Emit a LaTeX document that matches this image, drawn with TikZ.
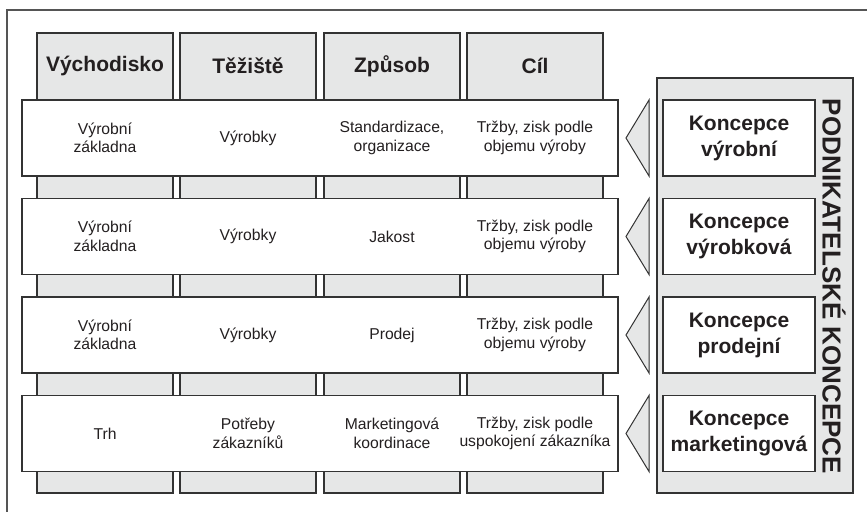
\documentclass[tikz,border=0pt]{standalone}
\usepackage{fontspec}
\setmainfont{Liberation Sans}
\definecolor{boxgray}{HTML}{E6E7E7}
\definecolor{linec}{HTML}{333333}
\definecolor{framec}{HTML}{555555}
\definecolor{txt}{HTML}{231F20}
\begin{document}
\begin{tikzpicture}[x=1pt,y=-1pt,
  colbox/.style={draw=linec,fill=boxgray,line width=1.1pt,minimum width=136pt,minimum height=460pt,inner sep=0pt},
  rowbox/.style={draw=linec,fill=white,line width=1.1pt,minimum width=596pt,minimum height=76pt,inner sep=0pt},
  kbox/.style={draw=linec,fill=white,line width=1.1pt,minimum width=152pt,minimum height=76pt,inner sep=0pt,
    text=txt,align=center,font=\fontsize{21}{26}\selectfont\bfseries},
  panel/.style={draw=linec,fill=boxgray,line width=1.1pt,minimum width=196pt,minimum height=415pt,inner sep=0pt},
  hdr/.style={text=txt,font=\fontsize{21}{24}\selectfont\bfseries},
  cell/.style={text=txt,align=center,font=\fontsize{15.7}{18.5}\selectfont},
  tri/.style={draw=linec,fill=boxgray,line width=1pt,line join=miter},
  vtext/.style={text=txt,rotate=-90,font=\fontsize{26}{30}\selectfont\bfseries}
]
\useasboundingbox (0,0) rectangle (867,512);
\fill[white] (0,0) rectangle (867,512);
% outer frame (cropped)
\draw[framec,line width=1.2pt] (867,10) -- (7,10) -- (7,512);

% columns
\node[colbox] (c1) at (105,263) {};
\node[colbox] (c2) at (248,263) {};
\node[colbox] (c3) at (392,263) {};
\node[colbox] (c4) at (535,263) {};
\node[hdr] (h1) at (105,66) {Východisko};
\node[hdr] (h2) at (248,66) {Těžiště};
\node[hdr] (h3) at (392,66) {Způsob};
\node[hdr] (h4) at (535,66) {Cíl};

% rows
\node[rowbox] (r1) at (320,138) {};
\node[rowbox] (r2) at (320,236.5) {};
\node[rowbox] (r3) at (320,335) {};
\node[rowbox] (r4) at (320,433.5) {};

\node[cell] (a11) at (105,138) {Výrobní\\základna};
\node[cell] (a12) at (248,138) {Výrobky};
\node[cell] (a13) at (392,138) {Standardizace,\\organizace};
\node[cell] (a14) at (535,138) {Tržby, zisk podle\\objemu výroby};

\node[cell] (a21) at (105,236.5) {Výrobní\\základna};
\node[cell] (a22) at (248,236.5) {Výrobky};
\node[cell] (a23) at (392,236.5) {Jakost};
\node[cell] (a24) at (535,236.5) {Tržby, zisk podle\\objemu výroby};

\node[cell] (a31) at (105,335) {Výrobní\\základna};
\node[cell] (a32) at (248,335) {Výrobky};
\node[cell] (a33) at (392,335) {Prodej};
\node[cell] (a34) at (535,335) {Tržby, zisk podle\\objemu výroby};

\node[cell] (a41) at (105,433.5) {Trh};
\node[cell] (a42) at (248,433.5) {Potřeby\\zákazníků};
\node[cell] (a43) at (392,433.5) {Marketingová\\koordinace};
\node[cell] (a44) at (535,433.5) {Tržby, zisk podle\\uspokojení zákazníka};

% right panel
\node[panel] (p) at (755,285.5) {};
\node[kbox] (k1) at (739,138) {Koncepce\\výrobní};
\node[kbox] (k2) at (739,236.5) {Koncepce\\výrobková};
\node[kbox] (k3) at (739,335) {Koncepce\\prodejní};
\node[kbox] (k4) at (739,433.5) {Koncepce\\marketingová};
\node[vtext] (vt) at (834,286.5) {PODNIKATELSKÉ KONCEPCE};

% triangles
\draw[tri] (649,100) -- (626,138) -- (649,176) -- cycle;
\draw[tri] (649,198.5) -- (626,236.5) -- (649,274.5) -- cycle;
\draw[tri] (649,297) -- (626,335) -- (649,373) -- cycle;
\draw[tri] (649,395.5) -- (626,433.5) -- (649,471.5) -- cycle;
\end{tikzpicture}
\end{document}
